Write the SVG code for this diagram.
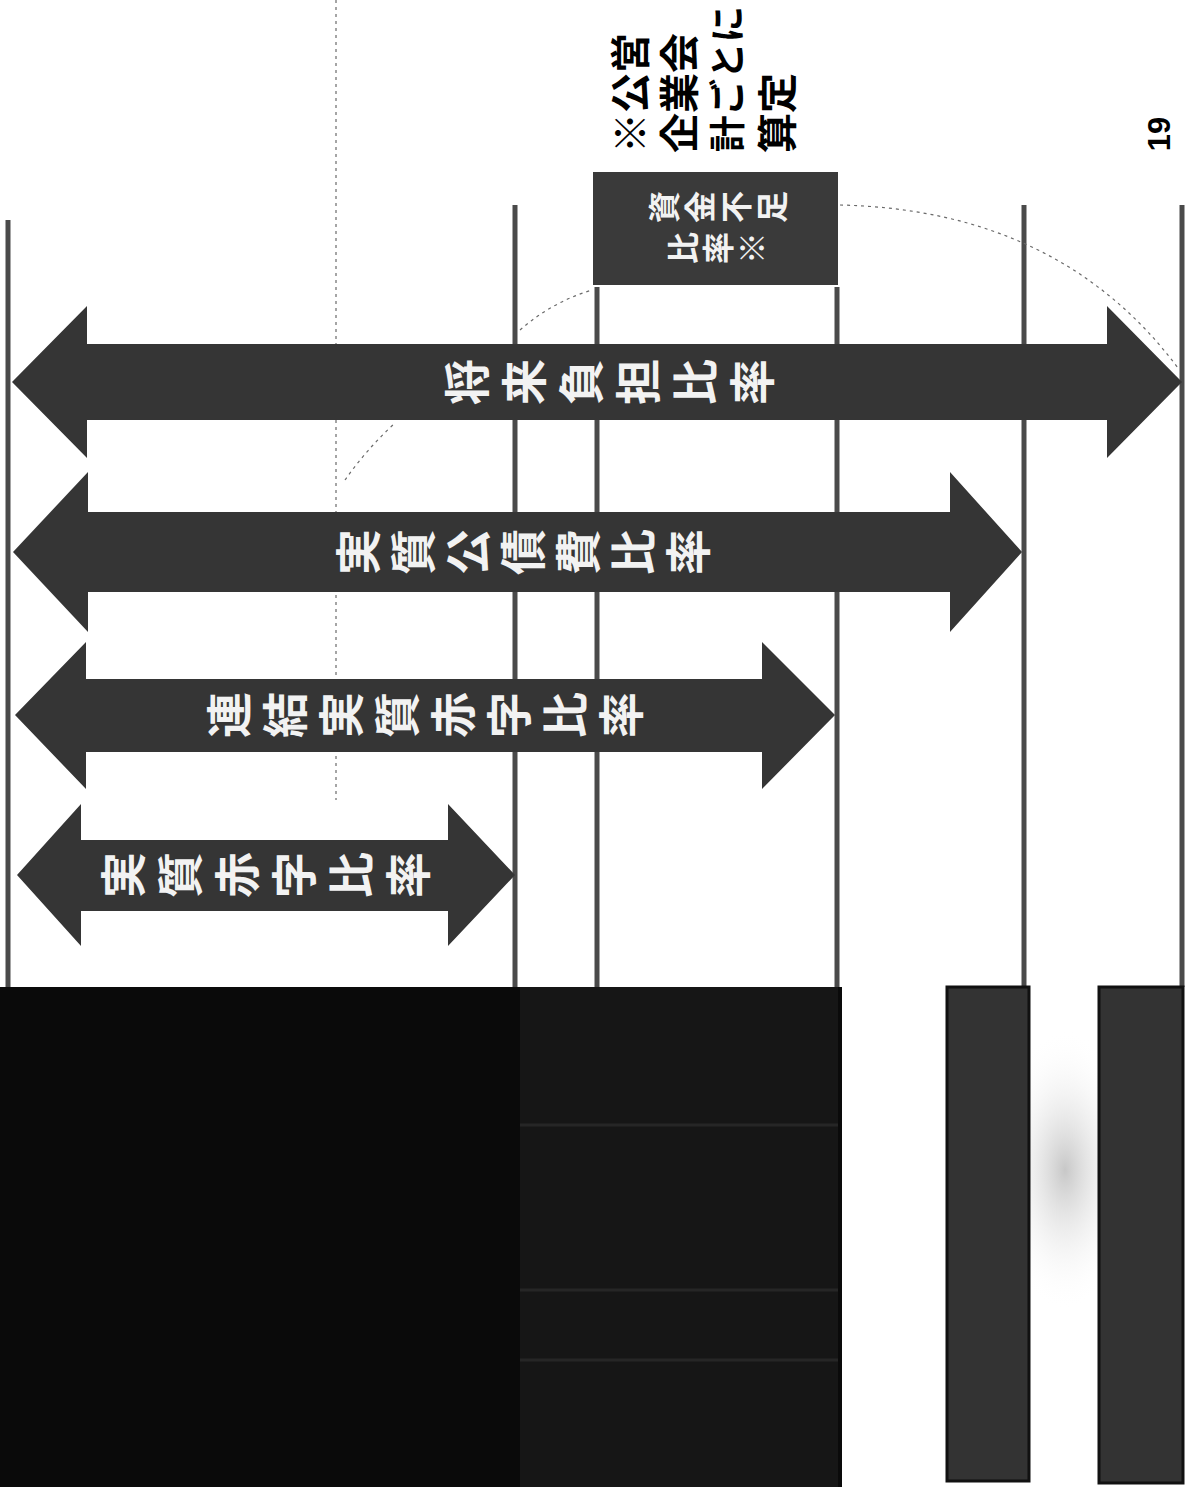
<svg xmlns="http://www.w3.org/2000/svg" width="1191" height="1494" viewBox="0 0 1191 1494">
<style>
.line{stroke:#4a4a4a;stroke-width:5;fill:none}
.arrow{fill:#353535}
.lbl{font-family:"Noto Sans CJK JP","Noto Sans CJK SC",sans-serif;font-weight:700;fill:#f2f2f2}
.note{font-family:"Noto Sans CJK JP","Noto Sans CJK SC",sans-serif;font-weight:700;fill:#000}
.faint{stroke:#6a6a6a;stroke-width:1.2;fill:none;stroke-dasharray:3 4}
</style>
<defs>
<radialGradient id="haze" cx="0.5" cy="0.5" r="0.5">
<stop offset="0" stop-color="#9a9a9a" stop-opacity="0.55"/>
<stop offset="1" stop-color="#ffffff" stop-opacity="0"/>
</radialGradient>
</defs>
<rect width="1191" height="1494" fill="#ffffff"/>
<ellipse cx="1065" cy="1170" rx="70" ry="140" fill="url(#haze)"/>

<g id="connectors">
<line class="line" x1="8" y1="220" x2="8" y2="987"/>
<line class="line" x1="515" y1="205" x2="515" y2="987"/>
<line class="line" x1="597" y1="287" x2="597" y2="987"/>
<line class="line" x1="837" y1="287" x2="837" y2="987"/>
<line class="line" x1="1024" y1="205" x2="1024" y2="987"/>
<line class="line" x1="1182" y1="205" x2="1182" y2="987"/>
<line class="faint" x1="336" y1="0" x2="336" y2="800" stroke-dasharray="2 12"/>
<path class="faint" d="M840 205 Q1060 210 1178 368"/>
<path class="faint" d="M520 330 Q552 302 592 290"/>
<path class="faint" d="M345 480 Q366 450 394 424"/>
</g>

<g id="fund-box">
<rect x="593" y="172" width="245" height="113" fill="#3a3a3a"/>
<text class="lbl" font-size="32" x="676 712 748 784" y="223" rotate="-90">資金不足</text>
<text class="lbl" font-size="32" x="695 730 764" y="264" rotate="-90">比率※</text>
</g>

<g id="note">
<text class="note" font-size="40" transform="translate(628,153) rotate(-90)" dominant-baseline="central">※公営</text>
<text class="note" font-size="40" transform="translate(677,153) rotate(-90)" dominant-baseline="central">企業会</text>
<text class="note" font-size="36.5" transform="translate(725,152) rotate(-90)" dominant-baseline="central">計ごとに</text>
<text class="note" font-size="40" transform="translate(775,153) rotate(-90)" dominant-baseline="central">算定</text>
</g>

<g id="page-number">
<text font-family="Liberation Sans, Arial, sans-serif" font-size="31" font-weight="700" fill="#000" text-anchor="middle" dominant-baseline="central" transform="translate(1159,134) rotate(-90)">19</text>
</g>

<g id="arrow-future-burden">
<polygon class="arrow" points="12,382 87,306 87,344 1107,344 1107,306 1182,382 1107,458 1107,420 87,420 87,458"/>
<text class="lbl" font-size="46" x="483.5 540.5 597.5 654.5 711.5 768.5" y="405" rotate="-90">将来負担比率</text>
</g>

<g id="arrow-debt-service">
<polygon class="arrow" points="13,552 88,472 88,512 950,512 950,472 1022,552 950,632 950,592 88,592 88,632"/>
<text class="lbl" font-size="46" x="374.5 429.5 484.5 539.5 594.5 649.5 704.5" y="575" rotate="-90">実質公債費比率</text>
</g>

<g id="arrow-consolidated-deficit">
<polygon class="arrow" points="15,715 86,642 86,679 762,679 762,642 835,715 762,789 762,752 86,752 86,789"/>
<text class="lbl" font-size="46" x="245.5 301.5 357.5 413.5 469.5 525.5 581.5 637.5" y="738" rotate="-90">連結実質赤字比率</text>
</g>

<g id="arrow-deficit">
<polygon class="arrow" points="17,875 81,804 81,840 448,840 448,804 515,875 448,946 448,911 81,911 81,946"/>
<text class="lbl" font-size="46" x="139.5 196.5 253.5 310.5 367.5 424.5" y="898" rotate="-90">実質赤字比率</text>
</g>

<g id="main-dark-box">
<rect x="0" y="987" width="842" height="500" fill="#0a0a0a"/>
<rect x="520" y="987" width="318" height="500" fill="#161616"/>
<line x1="520" y1="1125" x2="838" y2="1125" stroke="#262626" stroke-width="3"/>
<line x1="520" y1="1290" x2="838" y2="1290" stroke="#262626" stroke-width="3"/>
<line x1="520" y1="1360" x2="838" y2="1360" stroke="#262626" stroke-width="3"/>
</g>

<g id="early-box">
<rect x="947" y="987" width="82" height="494" fill="#333333" stroke="#111" stroke-width="3"/>
</g>

<g id="rebuild-box">
<rect x="1099" y="987" width="84" height="496" fill="#333333" stroke="#111" stroke-width="3"/>
</g>
</svg>
